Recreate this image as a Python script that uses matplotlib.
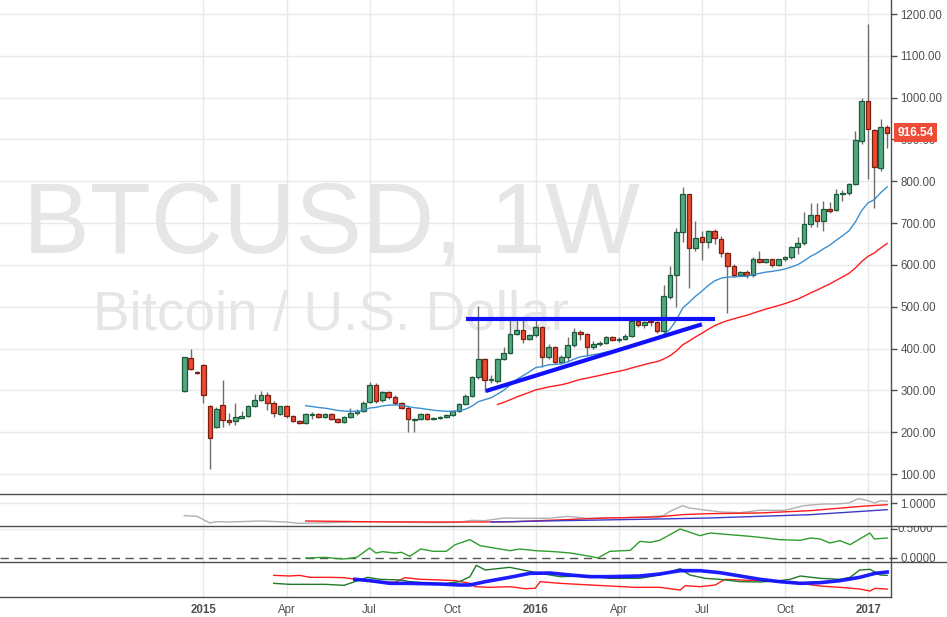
import numpy as np
import pandas as pd
import matplotlib
matplotlib.use("Agg")
import matplotlib.pyplot as plt
from matplotlib.patches import Rectangle
from matplotlib.lines import Line2D
from matplotlib.transforms import Bbox, TransformedBbox, blended_transform_factory

plt.rcParams['font.family'] = ['Liberation Sans', 'DejaVu Sans']

# ---------------- data (weekly BTCUSD, week starting 2014-12-15) ----------------
first_week = "2014-12-15"
opens = [299, 377, 345, 360, 262, 213, 264, 229, 226, 235, 238, 262, 276, 288, 269, 244, 263, 238, 227, 221,
         242, 243, 237, 243, 231, 224, 236, 245, 250, 273, 313, 276, 295, 283, 269, 259, 230, 231, 243, 231,
         233, 236, 240, 250, 267, 286, 331, 374, 324, 322, 375, 389, 435, 444, 424, 432, 452, 379, 403, 369,
         380, 408, 439, 434, 403, 412, 413, 427, 421, 424, 431, 466, 457, 465, 463, 441, 524, 575, 678, 769,
         640, 666, 654, 682, 661, 628, 597, 576, 583, 576, 613, 608, 613, 601, 613, 618, 642, 653, 698, 719,
         704, 733, 731, 769, 772, 793, 897, 993, 923, 831, 931]
highs = [381, 399, 347, 362, 265, 260, 325, 246, 270, 251, 264, 291, 299, 296, 275, 263, 266, 240, 229, 245,
         249, 246, 246, 245, 233, 238, 259, 256, 275, 321, 317, 298, 298, 290, 272, 262, 235, 245, 246, 236,
         238, 243, 253, 270, 292, 335, 502, 378, 337, 378, 404, 470, 470, 468, 436, 468, 455, 410, 406, 384,
         428, 450, 445, 438, 418, 418, 430, 430, 427, 434, 470, 472, 466, 468, 466, 552, 597, 688, 787, 770,
         706, 680, 684, 686, 668, 630, 602, 585, 588, 618, 634, 614, 615, 614, 622, 645, 666, 727, 749, 749,
         754, 750, 782, 780, 795, 920, 1000, 1175, 925, 950, 935]
lows = [297, 349, 340, 269, 113, 210, 213, 218, 218, 233, 236, 260, 274, 252, 237, 241, 235, 224, 219, 219,
        231, 235, 235, 229, 222, 222, 234, 242, 248, 270, 270, 273, 280, 265, 255, 201, 201, 229, 229, 228,
        231, 234, 238, 248, 264, 284, 328, 297, 318, 318, 372, 386, 432, 413, 420, 428, 357, 374, 364, 364,
        371, 404, 420, 383, 400, 406, 410, 418, 415, 420, 428, 452, 449, 455, 438, 438, 518, 500, 655, 546,
        634, 611, 641, 650, 620, 486, 570, 573, 568, 570, 605, 604, 596, 598, 610, 615, 625, 647, 690, 690,
        682, 725, 728, 752, 768, 790, 890, 805, 737, 825, 880]
closes = [379, 350, 341, 290, 185, 255, 230, 225, 236, 239, 262, 276, 288, 271, 245, 262, 238, 227, 221, 243,
          244, 237, 243, 231, 224, 236, 245, 250, 271, 313, 275, 295, 283, 269, 259, 231, 232, 243, 231, 234,
          236, 240, 251, 267, 286, 331, 374, 324, 325, 374, 390, 435, 444, 424, 432, 452, 379, 403, 369, 380,
          408, 439, 434, 403, 412, 413, 427, 421, 424, 431, 466, 457, 463, 463, 441, 525, 575, 678, 769, 640,
          664, 654, 681, 664, 628, 597, 576, 583, 576, 613, 608, 613, 601, 613, 618, 642, 653, 698, 719, 704,
          733, 730, 770, 773, 793, 899, 993, 924, 833, 931, 916.54]

fast_len, slow_len = 20, 50

# user-drawn trend lines (bar index, price)
resist_x, resist_y = [44.1, 83.05], [470, 470]
support_x, support_y = [47.2, 81.0], [298.5, 458]

# indicator pane 1 (index, value)
p1_gray_x = [0, 2, 4, 5, 7, 12, 16, 18, 20, 23, 26, 30, 34, 39, 43, 45, 47, 50, 53, 57, 60, 63, 66, 69, 72,
             75, 76, 78, 79, 81, 84, 87, 90, 94, 97, 100, 102, 104, 105.5, 107, 108, 109, 110]
p1_gray_y = [0.782, 0.770, 0.655, 0.678, 0.672, 0.690, 0.672, 0.649, 0.655, 0.661, 0.672, 0.678, 0.667, 0.661,
             0.667, 0.701, 0.695, 0.741, 0.736, 0.736, 0.770, 0.736, 0.747, 0.747, 0.759, 0.782, 0.856, 0.954,
             0.914, 0.885, 0.845, 0.833, 0.874, 0.874, 0.954, 0.983, 0.983, 1.000, 1.075, 1.040, 1.000, 1.040, 1.030]
p1_red_x = [19, 30, 43, 51, 66, 74, 78, 82, 90, 98, 106, 110]
p1_red_y = [0.690, 0.675, 0.672, 0.675, 0.741, 0.759, 0.800, 0.816, 0.828, 0.868, 0.943, 0.971]
p1_blue_x = [48, 59, 74, 82, 90, 98, 106, 110]
p1_blue_y = [0.672, 0.695, 0.724, 0.741, 0.770, 0.799, 0.856, 0.885]

# indicator pane 2
p2_green_x = [19, 22, 24, 25, 27, 29, 30, 31, 33, 34, 35.3, 37, 39, 41, 42.4, 44.7, 46.3, 49.4, 51, 52.5, 55,
              58, 60.4, 63.5, 64.7, 66.6, 69.8, 71.3, 72.9, 74.4, 77.6, 80.7, 82.3, 85.4, 88.5, 91, 93.2,
              96.4, 98, 99.5, 101, 102.6, 104.2, 105.7, 107.3, 108, 110]
p2_green_y = [0.0, 0.011, -0.011, -0.017, 0.011, 0.172, 0.086, 0.109, 0.086, 0.098, 0.029, 0.155, 0.115,
              0.115, 0.23, 0.316, 0.213, 0.155, 0.126, 0.155, 0.126, 0.109, 0.086, 0.029, 0.0, 0.115, 0.132,
              0.287, 0.27, 0.305, 0.5, 0.385, 0.431, 0.402, 0.374, 0.345, 0.316, 0.305, 0.345, 0.328, 0.259,
              0.299, 0.23, 0.328, 0.431, 0.328, 0.345]

# indicator pane 3
p3_red_x = [14, 16.5, 18, 19.7, 22.8, 25, 27.5, 30.6, 33, 34.5, 37, 40, 42.4, 44.7, 45.5, 47.8, 51, 53.3,
            54.9, 55.7, 58.8, 63.5, 66.6, 70.5, 74.4, 77.6, 78.4, 80.7, 83.1, 84.6, 87, 90.1, 93.2, 96.4,
            99.5, 102.6, 105.7, 107.3, 108.1, 110]
p3_red_y = [0.65, 0.63, 0.65, 0.59, 0.59, 0.58, 0.51, 0.44, 0.44, 0.58, 0.53, 0.51, 0.49, 0.41, 0.31, 0.29,
            0.31, 0.25, 0.26, 0.46, 0.41, 0.36, 0.33, 0.29, 0.29, 0.21, 0.34, 0.31, 0.36, 0.53, 0.51, 0.49,
            0.46, 0.41, 0.33, 0.29, 0.24, 0.18, 0.26, 0.24]
p3_green_x = [14, 16.5, 22, 25, 26.7, 28.7, 30.6, 33.8, 35.3, 38.5, 40, 43.1, 44.7, 45.7, 47.1, 50.9, 54.1,
              55.7, 58.8, 63.5, 66.6, 71.3, 74.4, 77.6, 79.1, 81.5, 83.8, 87, 90.1, 93.2, 94.8, 96.4, 99.5,
              102.6, 104.2, 105.7, 107.3, 108.9, 110]
p3_green_y = [0.41, 0.38, 0.38, 0.35, 0.46, 0.59, 0.53, 0.51, 0.46, 0.41, 0.38, 0.46, 0.61, 0.95, 0.81, 0.89,
              0.77, 0.71, 0.61, 0.63, 0.56, 0.56, 0.66, 0.85, 0.66, 0.56, 0.53, 0.46, 0.45, 0.49, 0.53, 0.63,
              0.56, 0.53, 0.59, 0.81, 0.83, 0.66, 0.65]
p3_blue_x = [26.7, 29.1, 32.2, 35.3, 40, 43.1, 44.7, 47.1, 50.9, 54.1, 57.2, 60.4, 63.5, 66.6, 71.3, 74.4,
             77.6, 80.7, 83.8, 87, 90.1, 93.2, 96.4, 99.5, 102.6, 105.7, 108.1, 110]
p3_blue_y = [0.53, 0.49, 0.41, 0.41, 0.39, 0.36, 0.36, 0.46, 0.59, 0.71, 0.72, 0.66, 0.61, 0.61, 0.63, 0.69,
             0.79, 0.79, 0.73, 0.63, 0.53, 0.46, 0.41, 0.43, 0.49, 0.59, 0.71, 0.75]

last_price = closes[-1]


def ema(vals, n):
    v = np.asarray(vals, dtype=float)
    out = np.full(len(v), np.nan)
    out[n - 1] = v[:n].mean()
    a = 2.0 / (n + 1)
    for k in range(n, len(v)):
        out[k] = a * v[k] + (1 - a) * out[k - 1]
    return out


# ---------------- figure ----------------
W, H = 947, 617
fig = plt.figure(figsize=(W / 100, H / 100), dpi=100)
fig.patch.set_facecolor('white')

x_right = 890.7
ax_w = x_right / W


def fy(py):
    return 1 - py / H


ax = fig.add_axes([0, fy(494), ax_w, fy(0) - fy(494)])
ax1 = fig.add_axes([0, fy(526), ax_w, fy(494) - fy(526)], sharex=ax)
ax2 = fig.add_axes([0, fy(562), ax_w, fy(526) - fy(562)], sharex=ax)
ax3 = fig.add_axes([0, fy(597), ax_w, fy(562) - fy(597)], sharex=ax)

n = len(closes)
idx = np.arange(n)
dates = pd.date_range(first_week, periods=n, freq='7D')

# quarterly ticks at first bar of Jan/Apr/Jul/Oct
tick_pos, tick_lab, tick_bold = [], [], []
for k in range(1, n):
    if dates[k].month != dates[k - 1].month and dates[k].month in (1, 4, 7, 10):
        tick_pos.append(k)
        if dates[k].month == 1:
            tick_lab.append(str(dates[k].year))
            tick_bold.append(True)
        else:
            tick_lab.append(dates[k].strftime('%b'))
            tick_bold.append(False)

grid_c = '#e8e8e8'
txt_c = '#505050'
line_c = '#4d4d4d'

for a in (ax, ax1, ax2, ax3):
    for s in a.spines.values():
        s.set_visible(False)
    a.set_facecolor('none')
    for t in tick_pos:
        a.axvline(t, color=grid_c, lw=1, zorder=0)
    a.tick_params(axis='x', which='both', length=0, labelbottom=False)

ax.set_xlim(-28.84, 110.55)

# ---------------- main pane ----------------
ax.set_ylim(52.2, 1233.5)
for p in range(100, 1300, 100):
    ax.axhline(p, color=grid_c, lw=1, zorder=0)
ax.yaxis.tick_right()
ax.set_yticks(range(100, 1300, 100))
ax.set_yticklabels([f"{p:.2f}" for p in range(100, 1300, 100)])
ax.tick_params(axis='y', direction='out', length=4, width=1, color=line_c, labelsize=8.3,
               labelcolor=txt_c, pad=3)

# watermark (behind the candles)
ax.text(331 / W, fy(227), 'BTCUSD, 1W', fontsize=72, color='#e6e6e6', ha='center', va='center',
        transform=fig.transFigure, zorder=0.5, clip_on=False)
ax.text(331 / W, fy(316), 'Bitcoin / U.S. Dollar', fontsize=39.5, color='#e6e6e6', ha='center',
        va='center', transform=fig.transFigure, zorder=0.5, clip_on=False)

up_fc, up_ec = '#53a883', '#1d5a3a'
dn_fc, dn_ec = '#ec4a33', '#7a1f12'
body_w = 0.72
for k in range(n):
    o, h, l, c = opens[k], highs[k], lows[k], closes[k]
    up = c >= o
    ax.vlines(k, l, h, color='#6e6e6e', lw=1, zorder=3)
    bottom = min(o, c)
    height = max(abs(c - o), 2.4)
    ax.add_patch(Rectangle((k - body_w / 2, bottom), body_w, height,
                           facecolor=up_fc if up else dn_fc,
                           edgecolor=up_ec if up else dn_ec, lw=0.9, zorder=4))

ema_fast = ema(closes, fast_len)
ema_slow = ema(closes, slow_len)
ax.plot(idx, ema_fast, color='#3b8fd0', lw=1.0, zorder=5)
ax.plot(idx, ema_slow, color='#ff1c1c', lw=1.0, zorder=5)

ax.plot(resist_x, resist_y, color='#1010ff', lw=3.0, solid_capstyle='butt', zorder=6)
ax.plot(support_x, support_y, color='#1010ff', lw=3.0, solid_capstyle='butt', zorder=6)

# last price tag
bt = blended_transform_factory(ax.transAxes, ax.transData)
ax.text(1 + 6.5 / x_right, last_price, f"{last_price:.2f}", transform=bt, ha='left', va='center',
        color='white', fontsize=8.6, fontweight='bold', zorder=10, clip_on=False,
        bbox=dict(boxstyle='square,pad=0.28', fc='#ef4c37', ec='none'))

# ---------------- pane 1 ----------------
ax1.set_ylim(1 - 23 / 58, 1 + 9 / 58)
ax1.axhline(1.0, color=grid_c, lw=1, zorder=0)
ax1.plot(p1_gray_x, p1_gray_y, color='#b0b0b0', lw=1.0)
ax1.plot(p1_red_x, p1_red_y, color='#ff1c1c', lw=1.0)
ax1.plot(p1_blue_x, p1_blue_y, color='#3a3ac8', lw=1.0)
ax1.yaxis.tick_right()
ax1.set_yticks([1.0])
ax1.set_yticklabels(['1.0000'])
ax1.tick_params(axis='y', direction='out', length=4, width=1, color=line_c, labelsize=8.3,
                labelcolor=txt_c, pad=3)

# ---------------- pane 2 ----------------
ax2.set_ylim(-4 / 58, 32 / 58)
ax2.axhline(0.5, color=grid_c, lw=1, zorder=0)
ax2.axhline(0.0, color='#555555', lw=1, ls=(0, (6, 4)), zorder=1)
ax2.plot(p2_green_x, p2_green_y, color='#2e9e2e', lw=1.0)
ax2.yaxis.tick_right()
ax2.set_yticks([0.0, 0.5])
ax2.set_yticklabels(['0.0000', ''])
ax2.tick_params(axis='y', direction='out', length=4, width=1, color=line_c, labelsize=8.3,
                labelcolor=txt_c, pad=3)
bt2 = blended_transform_factory(ax2.transAxes, ax2.transData)
t05 = ax2.text(1 + 7 / x_right, 0.5, '0.5000', transform=bt2, ha='left', va='center',
               fontsize=8.3, color=txt_c)
p2_top = fy(526)
p2_bot = fy(562)
t05.set_clip_box(TransformedBbox(Bbox.from_extents(0.9, p2_bot, 1.0, p2_top), fig.transFigure))
t05.set_clip_on(True)

# ---------------- pane 3 ----------------
ax3.set_ylim(0, 1.05)
ax3.plot(p3_red_x, p3_red_y, color='#ff1c1c', lw=1.0)
ax3.plot(p3_green_x, p3_green_y, color='#1f7a2a', lw=1.0)
ax3.plot(p3_blue_x, p3_blue_y, color='#1010ff', lw=2.6, alpha=0.95)
ax3.set_yticks([])
ax3.set_xticks(tick_pos)
ax3.set_xticklabels(tick_lab)
ax3.tick_params(axis='x', labelbottom=True, length=0, pad=5, labelsize=8.3, labelcolor=txt_c)
for lab, b in zip(ax3.get_xticklabels(), tick_bold):
    if b:
        lab.set_fontweight('bold')

# ---------------- separators ----------------
for py in (494, 526, 562):
    fig.add_artist(Line2D([0, 1], [fy(py), fy(py)], color=line_c, lw=1, transform=fig.transFigure))
fig.add_artist(Line2D([0, ax_w], [fy(597), fy(597)], color=line_c, lw=1, transform=fig.transFigure))
fig.add_artist(Line2D([ax_w, ax_w], [fy(597), 1], color=line_c, lw=1, transform=fig.transFigure))

fig.savefig('out.png', dpi=100, facecolor='white')
